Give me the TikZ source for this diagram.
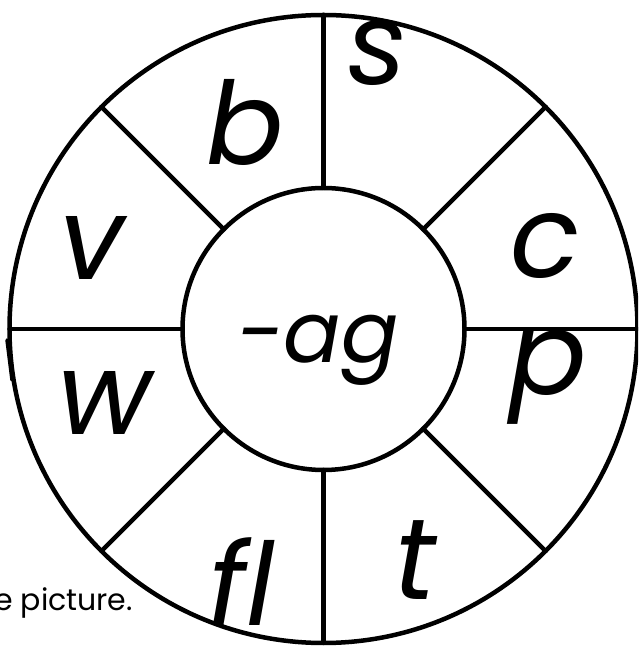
\documentclass[tikz,border=0pt]{standalone}
\usepackage{fontspec}
\newfontfamily\wheelfont{Poppins}
\begin{document}
\begin{tikzpicture}[
  x=1pt, y=1pt,
  line cap=round,
  line join=round,
  wheel/.style={circle, draw, line width=4.5pt, outer sep=0pt, inner sep=0pt},
  spoke/.style={line width=4.5pt},
  letter/.style={font=\wheelfont\itshape\fontsize{115}{115}\selectfont, anchor=base, inner sep=0pt}
]
  \clip (0,0) rectangle (638,648);

  % Centre of the wheel
  \coordinate (O) at (323.5,319);

  % Outer and inner rims
  \node[wheel, minimum size=628pt] (outer) at (O) {};
  \node[wheel, minimum size=282pt] (inner) at (O) {};

  % Spokes between the rims
  \foreach \a in {0,45,...,315}
    \draw[spoke] (inner.\a) -- (outer.\a);

  % Onsets round the wheel
  \node[letter] (b)  at (245,483) {b};
  \node[letter] (s)  at (378,563) {s};
  \node[letter] (c)  at (545,370) {c};
  \node[letter] (p)  at (548,253) {p};
  \node[letter] (t)  at (415,48)  {t};
  \node[letter] (fl) at (242,23)  {fl};
  \node[letter] (w)  at (105,213) {w};
  \node[letter] (v)  at (92,368)  {v};

  % Rime in the middle
  \node[letter, font=\wheelfont\itshape\fontsize{85}{85}\selectfont] (rime) at (318,285) {-ag};

  % Cut-off text of the worksheet
  \node[anchor=base west, inner sep=0pt,
        font=\wheelfont\fontsize{30}{30}\selectfont] (caption) at (-6,37) {e picture.};
  \draw[line width=3.5pt] (7,308) -- (12,268);
\end{tikzpicture}
\end{document}
